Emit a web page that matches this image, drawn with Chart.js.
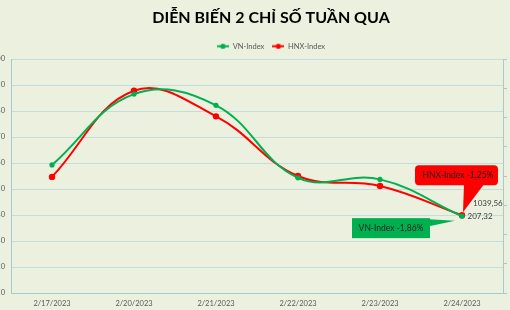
<!DOCTYPE html>
<html>
<head>
<meta charset="utf-8">
<script src="https://cdn.jsdelivr.net/npm/chart.js@4.4.1/dist/chart.umd.min.js"></script>
<style>
  html, body { margin:0; padding:0; background:#EBF1DE; }
  #wrap { position:relative; width:510px; height:310px; overflow:hidden; background:#EBF1DE; }
  #c { position:absolute; left:-40px; top:0; }
</style>
</head>
<body>
<div id="wrap"><canvas id="c" width="622" height="310"></canvas></div>
<script>
const CATEGORIES = ['2/17/2023','2/20/2023','2/21/2023','2/22/2023','2/23/2023','2/24/2023'];
const VN_INDEX  = [1059.26, 1086.5, 1082.2, 1054.3, 1053.7, 1039.56];
const HNX_INDEX = [209.94, 215.83, 214.08, 210.0, 209.32, 207.32];
const VN_TICKS  = { min: 1010, max: 1100, step: 10 };
const HNX_TICKS = { min: 202, max: 218, step: 2 };
const VN_LABEL  = '1039,56';
const HNX_LABEL = '207,32';
const VN_CALLOUT  = 'VN-Index -1,86%';
const HNX_CALLOUT = 'HNX-Index -1,25%';

const GREEN = '#00B050', RED = '#FF0000';
const GRID = '#C3DCDC', AXIS = '#A9C9CC', TXT = '#595959';
const FONT = 'Lato';

function legendImg(color){
  const c = document.createElement('canvas');
  c.width = 12; c.height = 7;
  const g = c.getContext('2d');
  g.strokeStyle = color; g.lineWidth = 2;
  g.beginPath(); g.moveTo(0,3.5); g.lineTo(12,3.5); g.stroke();
  g.fillStyle = color; g.beginPath(); g.arc(6,3.5,2.6,0,Math.PI*2); g.fill();
  return c;
}

const annot = {
  id: 'annot',
  afterLayout(chart){ chart.legend.top += 1; chart.legend.bottom += 1; },
  afterDatasetsDraw(chart){
    const ctx = chart.ctx;
    const i = CATEGORIES.length - 1;
    const x = chart.scales.x.getPixelForValue(i);
    const yv = chart.scales.y.getPixelForValue(VN_INDEX[i]);
    const yh = chart.scales.y1.getPixelForValue(HNX_INDEX[i]);
    ctx.save();
    // red callout
    ctx.fillStyle = RED;
    ctx.beginPath();
    if (ctx.roundRect) ctx.roundRect(x-47, yh-50, 83, 20, 4); else ctx.rect(x-47, yh-50, 83, 20);
    ctx.fill();
    ctx.beginPath();
    ctx.moveTo(x+2, yh-31); ctx.lineTo(x+22, yh-31); ctx.lineTo(x+1, yh-3); ctx.closePath(); ctx.fill();
    // green callout
    ctx.fillStyle = GREEN;
    ctx.fillRect(x-110, yv+2, 78, 20);
    ctx.beginPath();
    ctx.moveTo(x-33, yv+3); ctx.lineTo(x-33, yv+10); ctx.lineTo(x-7, yv+4.5); ctx.closePath(); ctx.fill();
    // texts
    ctx.fillStyle = '#222';
    ctx.font = '8.5px ' + FONT;
    ctx.textAlign = 'center'; ctx.textBaseline = 'middle';
    ctx.fillText(HNX_CALLOUT, x-4, yh-40);
    ctx.fillText(VN_CALLOUT, x-71, yv+12);
    ctx.fillStyle = '#404040';
    ctx.font = '8px ' + FONT;
    ctx.textAlign = 'left';
    ctx.fillText(VN_LABEL, x+11, yv-13);
    ctx.fillText(HNX_LABEL, x+5.5, yh+1);
    ctx.restore();
  }
};

new Chart(document.getElementById('c'), {
  type: 'line',
  data: {
    labels: CATEGORIES,
    datasets: [
      { label: 'VN-Index', data: VN_INDEX, yAxisID: 'y', borderColor: GREEN, backgroundColor: GREEN,
        borderWidth: 2, pointRadius: 2.6, pointBorderWidth: 0, tension: 0.4, fill: false },
      { label: 'HNX-Index', data: HNX_INDEX, yAxisID: 'y1', borderColor: RED, backgroundColor: RED,
        borderWidth: 2, pointRadius: 3.2, pointBorderWidth: 0, tension: 0.4, fill: false }
    ]
  },
  options: {
    responsive: false,
    animation: false,
    devicePixelRatio: 1,
    layout: { padding: 0 },
    plugins: {
      title: { display: true, text: 'DIỄN BIẾN 2 CHỈ SỐ TUẦN QUA', color: '#000',
        font: { family: FONT, size: 16, weight: 'bold', lineHeight: 1.2 }, padding: { top: 8, bottom: 6.3 } },
      legend: {
        display: true, position: 'top',
        labels: {
          color: TXT, font: { family: FONT, size: 7.5 }, padding: 8,
          usePointStyle: true, pointStyleWidth: 12,
          generateLabels(chart){
            return chart.data.datasets.map((d, idx) => ({
              text: d.label, fillStyle: d.borderColor, strokeStyle: d.borderColor,
              pointStyle: legendImg(d.borderColor), fontColor: TXT, lineWidth: 0, datasetIndex: idx, hidden: false
            }));
          }
        }
      },
      tooltip: { enabled: false }
    },
    scales: {
      x: {
        offset: true,
        grid: { display: false, drawTicks: false },
        border: { display: true, color: AXIS, width: 1 },
        ticks: { color: TXT, font: { family: FONT, size: 7.5 }, padding: 6, maxRotation: 0 },
        afterFit(s){ s.height = 17; }
      },
      y: {
        position: 'left', min: VN_TICKS.min, max: VN_TICKS.max,
        ticks: { stepSize: VN_TICKS.step, color: TXT, font: { family: FONT, size: 7.5 }, padding: 6 },
        grid: { color: GRID, drawTicks: false, lineWidth: 1 },
        border: { display: true, color: AXIS, width: 1 },
        afterFit(s){ s.width = 51; }
      },
      y1: {
        position: 'right', min: HNX_TICKS.min, max: HNX_TICKS.max,
        ticks: { stepSize: HNX_TICKS.step, color: TXT, font: { family: FONT, size: 7.5 }, padding: 4 },
        grid: { drawOnChartArea: false, drawTicks: true, tickLength: 4, color: AXIS },
        border: { display: true, color: AXIS, width: 1 },
        afterFit(s){ s.width = 79; }
      }
    }
  },
  plugins: [annot]
});
</script>
</body>
</html>
